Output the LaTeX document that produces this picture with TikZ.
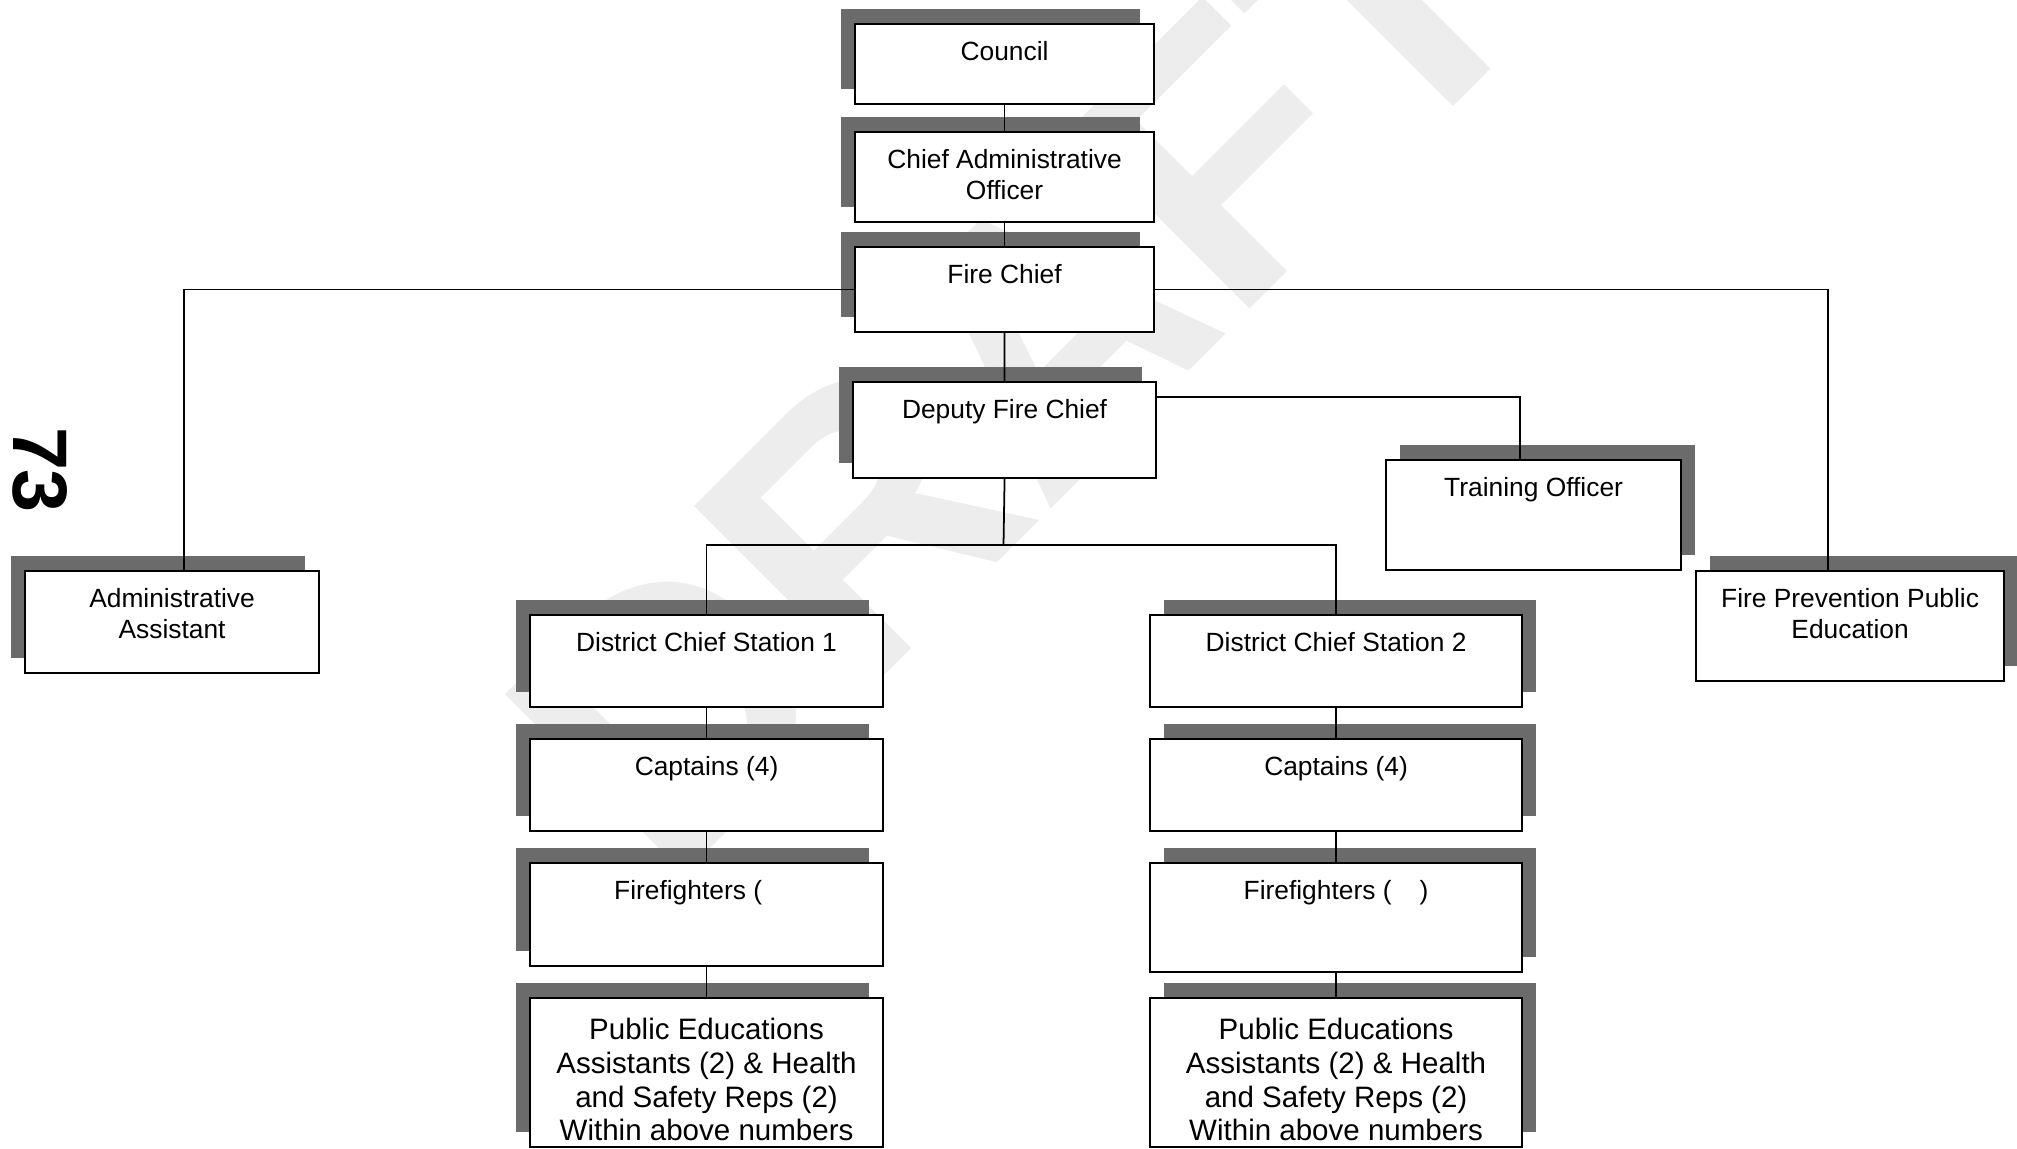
\documentclass[tikz,border=0pt]{standalone}
\usepackage{fontspec}
\setmainfont{Liberation Sans}
\usetikzlibrary{shadows}

\tikzset{
  post/.style={draw, fill=white, line width=0.6pt, inner sep=0pt, anchor=north west},
  lshadow/.style={drop shadow={shadow xshift=-1.4mm, shadow yshift=1.5mm, fill=black!58, opacity=1}},
  rshadow/.style={drop shadow={shadow xshift=1.4mm, shadow yshift=1.5mm, fill=black!58, opacity=1}},
  title/.style={anchor=north, yshift=-1.75mm, inner sep=0pt, align=center, font=\fontsize{7.5}{8.8}\selectfont},
  bigtitle/.style={title, yshift=-0.3mm, font=\fontsize{8.4}{9.6}\selectfont},
  link/.style={line width=0.5pt},
  draftmark/.style={rotate=45, text=black!7, font=\fontsize{105}{105}\selectfont\bfseries},
  hand/.style={rotate=-90, font=\fontsize{22}{22}\selectfont\bfseries}
}

\begin{document}
\begin{tikzpicture}[x=0.1mm,y=-0.1mm]
\useasboundingbox (0,0) rectangle (2017,1148);
\node[draftmark] (draft) at (1020,360) {DRAFT};
\node[hand] (pagenum) at (40,470) {73};

\node[post,lshadow,minimum width=29.9mm,minimum height=8mm,label={[title]north:Council}] (council) at (854,23) {};
\node[post,lshadow,minimum width=29.9mm,minimum height=9mm,label={[title]north:Chief Administrative\\Officer}] (cao) at (854,131) {};
\node[post,lshadow,minimum width=29.9mm,minimum height=8.5mm,label={[title]north:Fire Chief}] (firechief) at (854,246) {};
\node[post,lshadow,minimum width=30.3mm,minimum height=9.6mm,label={[title]north:Deputy Fire Chief}] (deputy) at (852,381) {};

\node[post,lshadow,minimum width=29.4mm,minimum height=10.2mm,label={[title]north:Administrative\\Assistant}] (admin) at (24,570) {};
\node[post,rshadow,minimum width=29.5mm,minimum height=11mm,label={[title]north:Training Officer}] (training) at (1385,459) {};
\node[post,rshadow,minimum width=30.8mm,minimum height=11mm,label={[title]north:Fire Prevention Public\\Education}] (fireprev) at (1695,570) {};

\node[post,lshadow,minimum width=35.3mm,minimum height=9.2mm,label={[title]north:District Chief Station 1}] (district1) at (529,614) {};
\node[post,lshadow,minimum width=35.3mm,minimum height=9.2mm,label={[title]north:Captains (4)}] (captains1) at (529,738) {};
\node[post,lshadow,minimum width=35.3mm,minimum height=10.3mm,label={[title]north:Firefighters (\hspace{8pt}\phantom{)}}] (firefighters1) at (529,862) {};
\node[post,lshadow,minimum width=35.3mm,minimum height=14.9mm,label={[bigtitle]north:Public Educations\\Assistants (2) \& Health\\and Safety Reps (2)\\Within above numbers}] (pubed1) at (529,997) {};

\node[post,rshadow,minimum width=37.2mm,minimum height=9.2mm,label={[title]north:District Chief Station 2}] (district2) at (1149,614) {};
\node[post,rshadow,minimum width=37.2mm,minimum height=9.2mm,label={[title]north:Captains (4)}] (captains2) at (1149,738) {};
\node[post,rshadow,minimum width=37.2mm,minimum height=10.9mm,label={[title]north:Firefighters (\hspace{8pt})}] (firefighters2) at (1149,862) {};
\node[post,rshadow,minimum width=37.2mm,minimum height=14.9mm,label={[bigtitle]north:Public Educations\\Assistants (2) \& Health\\and Safety Reps (2)\\Within above numbers}] (pubed2) at (1149,997) {};

\coordinate (bus) at (1003.5,545);

\draw[link] (council) -- (cao);
\draw[link] (cao) -- (firechief);
\draw[link] (firechief) -- (deputy);
\draw[link] (firechief.west) -| ([xshift=1.2mm]admin.north);
\draw[link] (firechief.east) -| ([xshift=-2.2mm]fireprev.north);
\draw[link] ([yshift=-1.6mm]deputy.north east) -| ([xshift=-1.35mm]training.north);
\draw[link] (deputy.south) -- (bus);
\draw[link] (district1.north) |- (bus) -| (district2.north);
\draw[link] (district1) -- (captains1);
\draw[link] (captains1) -- (firefighters1);
\draw[link] (firefighters1) -- (pubed1);
\draw[link] (district2) -- (captains2);
\draw[link] (captains2) -- (firefighters2);
\draw[link] (firefighters2) -- (pubed2);
\end{tikzpicture}
\end{document}
